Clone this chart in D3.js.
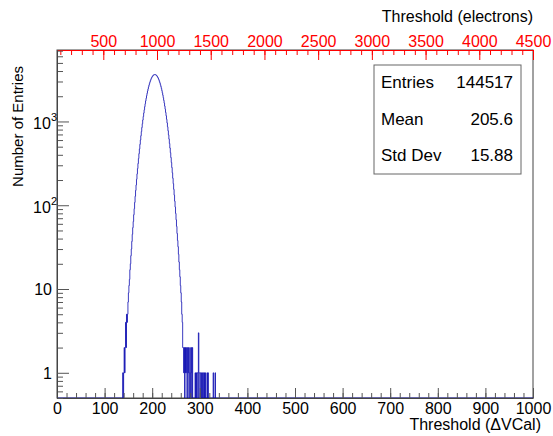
<!DOCTYPE html>
<html>
<head>
<meta charset="utf-8">
<script src="https://cdn.jsdelivr.net/npm/d3@7"></script>
<style>
  body { margin: 0; background: #fff; }
  svg { font-family: "Liberation Sans", Arial, sans-serif; }
</style>
</head>
<body>
<svg id="chart" width="553" height="436"></svg>
<script>
// histogram content, one value per 1-unit ΔVCal bin starting at firstBin
const firstBin = 136;
const counts = [
  0, 0, 1, 0, 1, 2, 1, 2, 4, 2,            // 136-145
  5, 4, 5, 7, 9, 11, 13, 17, 20, 25,       // 146-155
  30, 37, 45, 54, 64, 77, 91, 108, 128, 150, // 156-165
  175, 204, 237, 274, 315, 361, 413, 470, 533, 601, // 166-175
  676, 758, 846, 940, 1041, 1147, 1260, 1378, 1501, 1629, // 176-185
  1760, 1895, 2031, 2170, 2309, 2447, 2583, 2716, 2844, 2966, // 186-195
  3081, 3188, 3286, 3373, 3448, 3512, 3562, 3599, 3622, 3631, // 196-205
  3625, 3605, 3571, 3523, 3462, 3389, 3304, 3208, 3103, 2990, // 206-215
  2869, 2742, 2610, 2474, 2337, 2198, 2059, 1922, 1787, 1655, // 216-225
  1526, 1402, 1283, 1169, 1061, 960, 864, 775, 692, 616,     // 226-235
  546, 482, 424, 371, 324, 282, 244, 210, 181, 155,           // 236-245
  132, 112, 95, 80, 67, 56, 46, 38, 32, 26,                   // 246-255
  21, 17, 14, 11, 9, 7, 5, 4, 2, 2,                           // 256-265
  1, 2, 0, 2, 1, 2, 1, 0, 2, 1,                               // 266-275
  2, 0, 1, 2, 0, 1, 2, 0, 2, 0,                               // 276-285
  0, 0, 0, 0, 1, 0, 1, 0, 1, 1,                               // 286-295
  0, 3, 1, 1, 0, 1, 1, 0, 1, 0,                               // 296-305
  1, 1, 0, 1, 0, 1, 0, 0, 0, 1,                               // 306-315
  0, 1, 0, 0, 0, 0, 0, 0, 0, 0,                               // 316-325
  0, 0, 1, 0, 0, 0, 1, 0, 0, 0                                // 326-335
];

const vcalTicks = [0, 100, 200, 300, 400, 500, 600, 700, 800, 900, 1000];
const electronTicks = [500, 1000, 1500, 2000, 2500, 3000, 3500, 4000, 4500];
const countTicks = [1, 10, 100, 1000];
const statLabels = ["Entries", "Mean", "Std Dev"];
const statValues = ["144517", "205.6", "15.88"];

const fLeft = 57, fRight = 533, fTop = 50, fBottom = 398;

const svg = d3.select("#chart");

const x = d3.scaleLinear().domain([0, 1000]).range([fLeft, fRight]);
const xe = d3.scaleLinear().domain([69, 4500]).range([fLeft, fRight]);
const y = d3.scaleLog().domain([0.5, 7130]).range([fBottom, fTop]);

// frame
svg.append("rect")
    .attr("x", fLeft).attr("y", fTop)
    .attr("width", fRight - fLeft).attr("height", fBottom - fTop)
    .attr("fill", "#fff").attr("stroke", "#444").attr("stroke-width", 1);

// histogram outline (zero bins drop to the bottom, like ROOT on log scale)
const pts = [[x(0), fBottom]];
counts.forEach((c, i) => {
    const k = firstBin + i;
    const yv = c > 0 ? y(c) : fBottom;
    pts.push([x(k), yv], [x(k + 1), yv]);
});
pts.push([x(firstBin + counts.length), fBottom], [x(1000), fBottom]);

svg.append("path")
    .attr("d", d3.line()(pts))
    .attr("fill", "none")
    .attr("stroke", "#0a0ab0")
    .attr("stroke-width", 0.8);

// bottom axis, ticks pointing inwards
const gx = svg.append("g").attr("transform", `translate(0,${fBottom})`);
gx.call(d3.axisBottom(x).tickValues(d3.range(0, 1001, 20)).tickSizeInner(-5).tickSizeOuter(0).tickFormat(""));
gx.call(g => g.select(".domain").remove());
const gx2 = svg.append("g").attr("transform", `translate(0,${fBottom})`);
gx2.call(d3.axisBottom(x).tickValues(vcalTicks).tickSizeInner(-10).tickSizeOuter(0)
    .tickPadding(5).tickFormat(d3.format("d")));
gx2.selectAll("text").attr("font-size", 16).attr("fill", "#000")
    .attr("font-family", "Liberation Sans, Arial, sans-serif");
svg.selectAll(".domain").attr("stroke", "#444");
svg.selectAll(".tick line").attr("stroke", "#555");

svg.append("text")
    .attr("x", 541).attr("y", 430)
    .attr("text-anchor", "end")
    .attr("font-size", 16)
    .text("Threshold (ΔVCal)");

// top axis in electrons (red)
const gt = svg.append("g").attr("transform", `translate(0,${fTop})`);
gt.call(d3.axisBottom(xe).tickValues(d3.range(100, 4501, 100)).tickSizeInner(5).tickSizeOuter(0).tickFormat(""));
const gt2 = svg.append("g").attr("transform", `translate(0,${fTop})`);
gt2.call(d3.axisTop(xe).tickValues(electronTicks).tickSizeInner(-10).tickSizeOuter(0)
    .tickPadding(3).tickFormat(d3.format("d")));
[gt, gt2].forEach(g => {
    g.selectAll("line").attr("stroke", "#ff0000");
    g.select(".domain").attr("stroke", "#ff0000");
});
gt2.selectAll("text").attr("font-size", 16).attr("fill", "#ff0000")
    .attr("font-family", "Liberation Sans, Arial, sans-serif");

svg.append("text")
    .attr("x", 533).attr("y", 22)
    .attr("text-anchor", "end")
    .attr("font-size", 16)
    .text("Threshold (electrons)");

// left log axis
const minorY = [];
[0.1, 1, 10, 100, 1000].forEach(d => {
    for (let m = 1; m < 10; m++) {
        const v = d * m;
        if (v >= 0.5 && v <= 7130 && !countTicks.includes(v)) minorY.push(v);
    }
});
const gy = svg.append("g").attr("transform", `translate(${fLeft},0)`);
gy.call(d3.axisLeft(y).tickValues(minorY).tickSizeInner(-6).tickSizeOuter(0).tickFormat(""));
const gy2 = svg.append("g").attr("transform", `translate(${fLeft},0)`);
gy2.call(d3.axisLeft(y).tickValues(countTicks).tickSizeInner(-12).tickSizeOuter(0).tickFormat(""));
[gy, gy2].forEach(g => {
    g.selectAll("line").attr("stroke", "#555");
    g.selectAll(".domain").attr("stroke", "#444");
});

countTicks.forEach(v => {
    const e = Math.round(Math.log10(v));
    const t = svg.append("text")
        .attr("y", y(v) + 6)
        .attr("text-anchor", "end")
        .attr("font-size", 16);
    if (e < 2) {
        t.attr("x", 52).text(String(v));
    } else {
        t.attr("x", 57).attr("y", y(v) + 8);
        t.append("tspan").text("10");
        t.append("tspan").attr("font-size", 11).attr("dy", -8).text(String(e));
    }
});

svg.append("text")
    .attr("transform", "translate(23,66) rotate(-90)")
    .attr("text-anchor", "end")
    .attr("font-size", 15)
    .text("Number of Entries");

// stats box
svg.append("rect")
    .attr("x", 374).attr("y", 65)
    .attr("width", 147).attr("height", 109)
    .attr("fill", "#fff").attr("stroke", "#666").attr("stroke-width", 1);

const statY = [88, 125, 161];
statLabels.forEach((s, i) => {
    svg.append("text").attr("x", 381).attr("y", statY[i])
        .attr("font-size", 17).text(s);
    svg.append("text").attr("x", 513).attr("y", statY[i])
        .attr("text-anchor", "end").attr("font-size", 17).text(statValues[i]);
});
</script>
</body>
</html>
